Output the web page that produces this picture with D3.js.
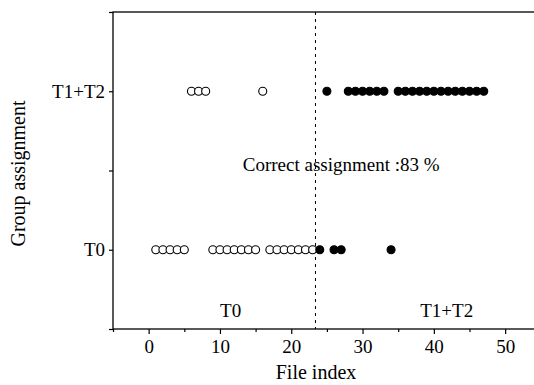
<!DOCTYPE html>
<html>
<head>
<meta charset="utf-8">
<script src="https://cdn.jsdelivr.net/npm/d3@7"></script>
<style>
  body { margin: 0; background: #fff; }
  svg { display: block; }
  text { font-family: "Liberation Serif", "Times New Roman", serif; fill: #000; }
</style>
</head>
<body>
<script>
// chart size
let width = 534, height = 385

// group rows on the y axis
let groups = ["T0", "T1+T2"]

// file indexes assigned to each group, open = true group T0, filled = true group T1+T2
let t0Open = [1, 2, 3, 4, 5, 9, 10, 11, 12, 13, 14, 15, 17, 18, 19, 20, 21, 22, 23]
let t0Filled = [24, 26, 27, 34]
let t12Open = [6, 7, 8, 16]
let t12Filled = [25, 28, 29, 30, 31, 32, 33, 35, 36, 37, 38, 39, 40, 41, 42, 43, 44, 45, 46, 47]

// x ticks
let xTicks = [0, 10, 20, 30, 40, 50]
let xMinor = [-5, 5, 15, 25, 35, 45, 55]

let threshold = 23.4
let accuracyLabel = "Correct assignment :83 %"

let margin = { top: 12, left: 113, bottom: 56 }

let x = d3.scaleLinear().domain([-5, 55]).range([margin.left, margin.left + 60 * 7.13])
let y = d3.scaleLinear().domain([-0.5, 1.5]).range([height - margin.bottom, margin.top])

let svg = d3.select("body").append("svg")
    .attr("width", width)
    .attr("height", height)

// frame
svg.append("rect")
    .attr("x", x(-5)).attr("y", y(1.5))
    .attr("width", x(55) - x(-5)).attr("height", y(-0.5) - y(1.5))
    .attr("fill", "none").attr("stroke", "#000").attr("stroke-width", 1.3)

// x axis
let xAxis = svg.append("g")
    .attr("transform", `translate(0,${y(-0.5)})`)
    .call(d3.axisBottom(x).tickValues(xTicks).tickSize(5).tickFormat(d3.format("d")))
xAxis.select(".domain").remove()
xAxis.selectAll("text")
    .attr("font-size", 19).attr("font-family", "Liberation Serif")
    .attr("y", 24).attr("dy", null)
xAxis.selectAll("line").attr("stroke-width", 1.2)

svg.append("g")
    .attr("transform", `translate(0,${y(-0.5)})`)
    .call(d3.axisBottom(x).tickValues(xMinor).tickSize(3).tickFormat(""))
    .call(g => g.select(".domain").remove())
    .selectAll("line").attr("stroke-width", 1.2)

// y axis
let yAxis = svg.append("g")
    .attr("transform", `translate(${x(-5)},0)`)
    .call(d3.axisLeft(y).tickValues([0, 1]).tickSize(4).tickPadding(4).tickFormat(d => groups[d]))
yAxis.select(".domain").remove()
yAxis.selectAll("text").attr("font-size", 19).attr("font-family", "Liberation Serif")
yAxis.selectAll("line").attr("stroke-width", 1.2)

svg.append("g")
    .attr("transform", `translate(${x(-5)},0)`)
    .call(d3.axisLeft(y).tickValues([-0.5, 0.5, 1.5]).tickSize(4).tickFormat(""))
    .call(g => g.select(".domain").remove())
    .selectAll("line").attr("stroke-width", 1.2)

// axis titles
svg.append("text")
    .attr("x", 316).attr("y", 379)
    .attr("text-anchor", "middle").attr("font-size", 20)
    .text("File index")

svg.append("text")
    .attr("transform", `translate(25,${y(0.5) + 3}) rotate(-90)`)
    .attr("text-anchor", "middle").attr("font-size", 20)
    .text("Group assignment")

// dashed threshold line
svg.append("line")
    .attr("x1", x(threshold)).attr("x2", x(threshold))
    .attr("y1", y(1.5)).attr("y2", y(-0.5))
    .attr("stroke", "#000").attr("stroke-width", 1)
    .attr("stroke-dasharray", "3,4")

// region labels
svg.append("text")
    .attr("x", x(11.5)).attr("y", 317)
    .attr("text-anchor", "middle").attr("font-size", 19)
    .text("T0")
svg.append("text")
    .attr("x", x(41.8)).attr("y", 317)
    .attr("text-anchor", "middle").attr("font-size", 19)
    .text("T1+T2")

svg.append("text")
    .attr("x", x(27)).attr("y", 171)
    .attr("text-anchor", "middle").attr("font-size", 19)
    .text(accuracyLabel)

// points
let pts = [
    ...t0Open.map(v => ({ x: v, g: 0, open: true })),
    ...t0Filled.map(v => ({ x: v, g: 0, open: false })),
    ...t12Open.map(v => ({ x: v, g: 1, open: true })),
    ...t12Filled.map(v => ({ x: v, g: 1, open: false }))
]

svg.append("g")
    .selectAll("circle")
    .data(pts)
    .join("circle")
    .attr("cx", d => x(d.x))
    .attr("cy", d => y(d.g))
    .attr("r", 4)
    .attr("fill", d => d.open ? "#fff" : "#000")
    .attr("stroke", "#000")
    .attr("stroke-width", 1.1)
</script>
</body>
</html>
